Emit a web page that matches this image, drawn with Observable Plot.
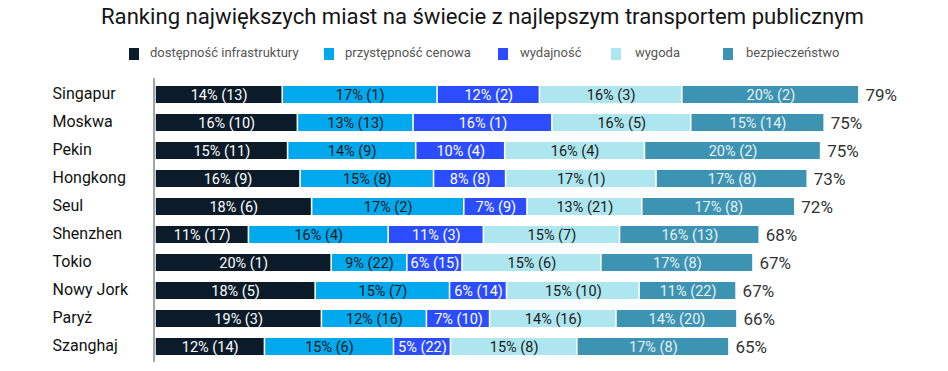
<!DOCTYPE html>
<html>
<head>
<meta charset="utf-8">
<script src="https://cdn.jsdelivr.net/npm/d3@7"></script>
<script src="https://cdn.jsdelivr.net/npm/@observablehq/plot@0.6"></script>
<style>
  html, body { margin: 0; padding: 0; background: #fff; }
  #wrap { width: 948px; height: 371px; position: relative; overflow: hidden; }
  #title { position: absolute; left: 101px; top: 5.5px; white-space: nowrap; transform-origin: 0 0;
    font-family: Roboto, sans-serif; font-size: 22px; line-height: 1; color: #151515; }
  #legend { position: absolute; left: 0; top: 36px; width: 948px; height: 34px; font-family: Roboto, sans-serif; font-size: 13px; color: #555; }
  .sw { position: absolute; top: 11.5px; width: 10px; height: 12px; }
  .lt { position: absolute; top: 9px; line-height: 16px; }
  #chart { position: absolute; left: 0; top: 70px; }
</style>
</head>
<body>
<div id="wrap">
  <div id="title"></div>
  <div id="legend"></div>
  <div id="chart"></div>
</div>
<script>
const title = "Ranking największych miast na świecie z najlepszym transportem publicznym";
const cities = ["Singapur", "Moskwa", "Pekin", "Hongkong", "Seul", "Shenzhen", "Tokio", "Nowy Jork", "Paryż", "Szanghaj"];
const categories = ["dostępność infrastruktury", "przystępność cenowa", "wydajność", "wygoda", "bezpieczeństwo"];
const colors = ["#0b1b2a", "#00a9ee", "#2b4dff", "#ade6ef", "#3d94b2"];
const labelColors = ["#ffffff", "#1a1a1a", "#ffffff", "#1a1a1a", "#e6f1f5"];

// labelled shares (%) and ranks
const dostepnosc = [14, 16, 15, 16, 18, 11, 20, 18, 19, 12];
const dostepnoscRank = [13, 10, 11, 9, 6, 17, 1, 5, 3, 14];
const przystepnosc = [17, 13, 14, 15, 17, 16, 9, 15, 12, 15];
const przystepnoscRank = [1, 13, 9, 8, 2, 4, 22, 7, 16, 6];
const wydajnosc = [12, 16, 10, 8, 7, 11, 6, 6, 7, 5];
const wydajnoscRank = [2, 1, 4, 8, 9, 3, 15, 14, 10, 22];
const wygoda = [16, 16, 16, 17, 13, 15, 15, 15, 14, 15];
const wygodaRank = [3, 5, 4, 1, 21, 7, 6, 10, 16, 8];
const bezpieczenstwo = [20, 15, 20, 17, 17, 16, 17, 11, 14, 17];
const bezpieczenstwoRank = [2, 14, 2, 8, 8, 13, 8, 22, 20, 8];
const totals = [79, 75, 75, 73, 72, 68, 67, 67, 66, 65];

// segment lengths as drawn in the picture (% units, unrounded estimates)
const dostepnoscLen = [14.3, 16.0, 14.9, 16.3, 17.6, 10.5, 19.8, 18.0, 18.7, 12.3];
const przystepnoscLen = [17.4, 13.0, 14.4, 15.0, 17.1, 15.7, 8.5, 15.1, 11.8, 14.5];
const wydajnoscLen = [11.5, 15.6, 10.0, 8.1, 7.1, 10.7, 6.2, 6.4, 7.1, 6.4];
const wygodaLen = [16.0, 15.6, 15.7, 16.9, 12.9, 15.3, 15.6, 14.9, 14.2, 14.2];
const bezpieczenstwoLen = [19.9, 15.0, 19.8, 17.0, 17.2, 15.7, 17.1, 10.9, 13.6, 17.1];

const series = [dostepnosc, przystepnosc, wydajnosc, wygoda, bezpieczenstwo];
const lengths = [dostepnoscLen, przystepnoscLen, wydajnoscLen, wygodaLen, bezpieczenstwoLen];
const ranks = [dostepnoscRank, przystepnoscRank, wydajnoscRank, wygodaRank, bezpieczenstwoRank];

const data = [];
cities.forEach((c, i) => {
  categories.forEach((cat, j) => {
    data.push({city: c, cat, ci: j, value: series[j][i], len: lengths[j][i], rank: ranks[j][i]});
  });
});
const totalsData = cities.map((c, i) => ({city: c, end: d3.sum(lengths, s => s[i]), total: totals[i]}));

const titleEl = document.getElementById("title");
titleEl.textContent = title;
const tw = titleEl.getBoundingClientRect().width;
titleEl.style.transform = `scaleX(${763 / tw})`;

const legendPos = [[129, 150], [324, 345], [498, 520], [611, 635], [723, 746]];
const legend = document.getElementById("legend");
categories.forEach((cat, j) => {
  const sw = document.createElement("div");
  sw.className = "sw"; sw.style.left = legendPos[j][0] + "px"; sw.style.background = colors[j];
  const t = document.createElement("div");
  t.className = "lt"; t.style.left = legendPos[j][1] + "px"; t.textContent = cat;
  legend.append(sw, t);
});

const chart = Plot.plot({
  width: 948,
  height: 301,
  marginLeft: 155,
  marginRight: 90,
  marginTop: 8,
  marginBottom: 9,
  style: {fontFamily: "Roboto, sans-serif", background: "#fff"},
  x: {domain: [0, 79], axis: null},
  y: {domain: cities, paddingInner: 0.4, paddingOuter: 0.19, axis: null},
  color: {domain: categories, range: colors},
  marks: [
    Plot.barX(data, Plot.stackX({x: "len", y: "city", z: "cat", fill: "cat", order: null, insetLeft: 0.8, insetRight: 0.8})),
    Plot.text(data, Plot.stackX({x: "len", y: "city", z: "cat", order: null,
      text: d => `${d.value}% (${d.rank})`, fill: d => labelColors[d.ci], fontSize: 14.5, dy: 0.5})),
    Plot.text(totalsData, {x: "end", y: "city", text: d => `${d.total}%`, textAnchor: "start", dx: 6, fontSize: 17, fill: "#333", dy: 0.5}),
    Plot.text(cities, {y: d => d, frameAnchor: "left", dx: -103, textAnchor: "start", fontSize: 16, fill: "#111", dy: -1.5}),
    Plot.ruleX([0], {stroke: "#8b9097", strokeWidth: 1.6, dx: -1.5})
  ]
});
document.getElementById("chart").append(chart);
</script>
</body>
</html>
